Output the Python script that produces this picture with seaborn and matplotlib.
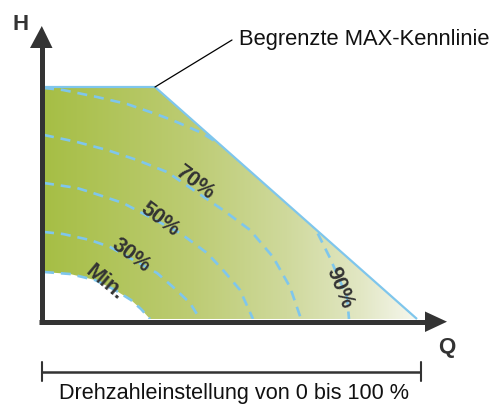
import numpy as np
import pandas as pd
import matplotlib
matplotlib.use("Agg")
import matplotlib.pyplot as plt
import seaborn as sns
from matplotlib.patches import Polygon
from matplotlib.colors import LinearSegmentedColormap

# Pump characteristics, flow Q vs head H (relative units)
max_q = [0, 111, 373]
max_h = [232, 232, 0]

curve_names = ["Min.", "30%", "50%", "70%", "90%"]
min_q = [0, 26, 51, 71, 87, 97, 106]
min_h = [47, 45, 39, 29, 19, 10, 0]
q30 = [0, 19, 46, 66, 113, 129, 146, 156]
h30 = [87, 85, 79, 72, 46, 32, 16, 0]
q50 = [0, 33, 46, 79, 136, 163, 179, 196, 209]
h50 = [136, 131, 127, 116, 86, 66, 49, 29, 0]
q70 = [0, 33, 63, 93, 123, 179, 206, 229, 246, 257]
h70 = [184, 177, 169, 159, 147, 109, 89, 62, 32, 0]
q90 = [0, 19, 53, 83, 109, 128, 158, 169, 206, 246, 272, 286, 303, 305]
h90 = [231, 229, 222, 215, 206, 199, 186, 179, 159, 124, 89, 61, 22, 0]

# label anchor points (Q, H) and rotation for each speed curve
label_q = [61, 87, 116, 151, 295]
label_h = [36, 63, 99, 136, 31]
label_rot = [-40, -37, -37, -37, -68]

title_max = "Begrenzte MAX-Kennlinie"
range_text = "Drehzahleinstellung von 0 bis 100 %"

sns.set_theme(style="white")
plt.rcParams["font.family"] = ["Liberation Sans", "DejaVu Sans"]

BLUE = "#7fc6ec"
DARK = "#333333"

fig = plt.figure(figsize=(4.94, 4.05), dpi=100)
ax = fig.add_axes([0, 0, 1, 1])
ax.set_axis_off()

# operating range: under the max characteristic, above the min curve
region_pts = (list(zip(max_q, max_h)) +
              list(zip(min_q[::-1], min_h[::-1])))
fill_patch = Polygon(region_pts, closed=True, transform=ax.transData,
                     facecolor="none", edgecolor="none")
limit_patch = Polygon(list(zip(max_q, max_h)) + [(max_q[-1], 0), (0, 0)],
                      closed=True, transform=ax.transData,
                      facecolor="none", edgecolor="none")

cmap = LinearSegmentedColormap.from_list(
    "green_fade",
    [(0.0, "#a6be45"), (0.4, "#bdcc74"), (0.65, "#cfd99c"),
     (0.85, "#e2e7c4"), (1.0, "#f6f7ee")])
grad = np.linspace(0, 1, 256).reshape(1, -1)
im = ax.imshow(grad, extent=[0, max_q[-1], 0, max_h[0]], cmap=cmap,
               aspect="auto", origin="lower", interpolation="bilinear",
               zorder=1)
im.set_clip_path(fill_patch)

# dashed speed curves
frames = []
for name, q, h in zip(curve_names, [min_q, q30, q50, q70, q90],
                      [min_h, h30, h50, h70, h90]):
    frames.append(pd.DataFrame({"Q": q, "H": h, "curve": name}))
df = pd.concat(frames, ignore_index=True)

n_before = len(ax.lines)
sns.lineplot(data=df, x="Q", y="H", hue="curve", hue_order=curve_names,
             palette=[BLUE] * len(curve_names), estimator=None, sort=False,
             legend=False, linewidth=1.9, ax=ax, zorder=2)
for line in ax.lines[n_before:]:
    line.set_dashes([3.8, 2.6])
    line.set_clip_path(limit_patch)

# limited max characteristic
ax.plot(max_q, max_h, color=BLUE, linewidth=1.6, zorder=3,
        solid_capstyle="butt")

for name, lq, lh, rot in zip(curve_names, label_q, label_h, label_rot):
    ax.text(lq, lh, name, rotation=rot, rotation_mode="anchor",
            ha="center", va="center", fontsize=15.5, fontweight="bold",
            color=DARK, zorder=5)

# axes with arrow heads
ax.plot([-2.2, -2.2], [-5, 272], color=DARK, linewidth=3.6,
        solid_capstyle="butt", zorder=4)
ax.add_patch(Polygon([(-14, 271), (8.5, 271), (-2.2, 293)], closed=True,
                     facecolor=DARK, edgecolor="none", zorder=4))
ax.plot([-5, 382], [-2.7, -2.7], color=DARK, linewidth=3.6,
        solid_capstyle="butt", zorder=4)
ax.add_patch(Polygon([(381, 7.5), (381, -13), (403, -2.7)], closed=True,
                     facecolor=DARK, edgecolor="none", zorder=4))
ax.text(-23, 295, "H", ha="center", va="center", fontsize=16,
        fontweight="bold", color=DARK)
ax.text(403, -29, "Q", ha="center", va="center", fontsize=16,
        fontweight="bold", color=DARK)

# annotation of the max characteristic
ax.plot([max_q[1], 188], [max_h[1], 279], color="black", linewidth=0.9,
        zorder=4)
ax.text(195, 279, title_max, ha="left", va="center", fontsize=15.8,
        color="#111111")

# range bracket
ax.plot([-2, 377], [-53, -53], color=DARK, linewidth=1.8,
        solid_capstyle="butt")
ax.plot([-2, -2], [-43, -62], color=DARK, linewidth=1.5)
ax.plot([377, 377], [-43, -62], color=DARK, linewidth=1.5)
ax.text(190, -80.5, range_text, ha="center", va="baseline", fontsize=15.6,
        color="#111111")

ax.set_xlim(-44, 450)
ax.set_ylim(-86, 319)

fig.savefig("out.png", dpi=100, facecolor="white")
